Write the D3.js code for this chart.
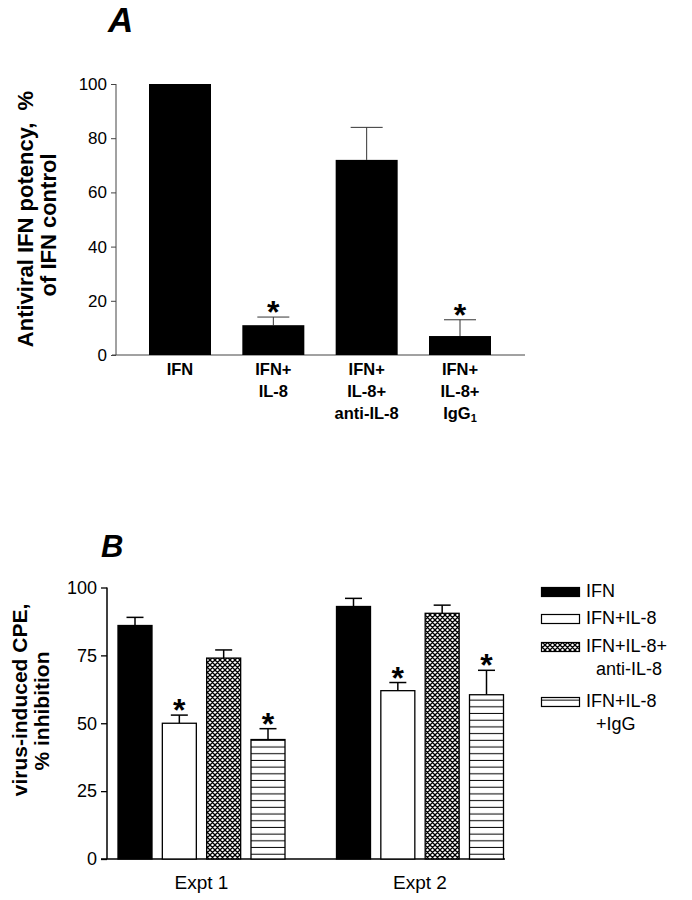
<!DOCTYPE html>
<html>
<head>
<meta charset="utf-8">
<script src="https://cdn.jsdelivr.net/npm/d3@7"></script>
<style>
  html, body { margin: 0; padding: 0; background: #fff; }
  svg { display: block; font-family: "Liberation Sans", Arial, Helvetica, sans-serif; }
</style>
</head>
<body>
<svg id="chart" width="692" height="900"></svg>
<script>
// ---------- Panel A data ----------
const categoriesA = ["IFN", "IFN+IL-8", "IFN+IL-8+anti-IL-8", "IFN+IL-8+IgG1"];
const labelLinesA = [["IFN"], ["IFN+", "IL-8"], ["IFN+", "IL-8+", "anti-IL-8"], ["IFN+", "IL-8+", "IgG"]];
const valuesA = [100, 11, 72, 7];
const errorsA = [0, 3, 12, 6];
const significantA = [false, true, false, true];
const ticksA = [0, 20, 40, 60, 80, 100];
const minorTicksA = [0, 10, 20, 30, 40, 50, 60, 70, 80, 90, 100];

// ---------- Panel B data ----------
const groupsB = ["Expt 1", "Expt 2"];
const seriesB = ["IFN", "IFN+IL-8", "IFN+IL-8+anti-IL-8", "IFN+IL-8+IgG"];
const legendLinesB = [["IFN"], ["IFN+IL-8"], ["IFN+IL-8+", "anti-IL-8"], ["IFN+IL-8", "+IgG"]];
const valuesExpt1 = [86, 50, 74, 44];
const errorsExpt1 = [3, 3, 3, 4];
const valuesExpt2 = [93, 62, 90.5, 60.5];
const errorsExpt2 = [3, 3, 3, 9];
const significantB = [false, true, false, true];
const ticksB = [0, 25, 50, 75, 100];
const minorTicksB = [0, 12.5, 25, 37.5, 50, 62.5, 75, 87.5, 100];

const svg = d3.select("#chart");

// ---------- patterns ----------
const defs = svg.append("defs");
const cross = defs.append("pattern").attr("id", "cross")
  .attr("patternUnits", "userSpaceOnUse").attr("width", 5).attr("height", 5);
cross.append("rect").attr("width", 5).attr("height", 5).attr("fill", "#fff");
cross.append("path").attr("d", "M0,0L5,5M5,0L0,5M-1,4L1,6M4,-1L6,1M4,6L6,4M-1,1L1,-1")
  .attr("stroke", "#000").attr("stroke-width", 1.3);
const hl = defs.append("pattern").attr("id", "hlines")
  .attr("patternUnits", "userSpaceOnUse").attr("width", 10).attr("height", 6.7);
hl.append("rect").attr("width", 10).attr("height", 6.7).attr("fill", "#fff");
hl.append("line").attr("x1", 0).attr("x2", 10).attr("y1", 3.3).attr("y2", 3.3)
  .attr("stroke", "#000").attr("stroke-width", 1);
const fills = ["#000", "#fff", "url(#cross)", "url(#hlines)"];

// =================== PANEL A ===================
const yA = d3.scaleLinear().domain([0, 100]).range([355, 84]);
const xA = d3.scalePoint().domain(categoriesA).range([180, 460]);
const bwA = 62;
const gA = svg.append("g");

gA.append("text").attr("x", 108).attr("y", 32)
  .attr("font-size", 35).attr("font-weight", "bold").attr("font-style", "italic").text("A");

// axis
const axA = gA.append("g").attr("transform", "translate(116,0)");
axA.call(d3.axisLeft(yA).tickValues(minorTicksA).tickSize(3).tickFormat(""));
axA.call(d3.axisLeft(yA).tickValues(ticksA).tickSize(5).tickPadding(4).tickFormat(d3.format("d")));
axA.select(".domain").remove();
axA.selectAll("line").attr("stroke", "#444").attr("stroke-width", 1);
axA.selectAll("text").attr("font-size", 17).attr("font-family", "Liberation Sans, Arial, sans-serif").attr("fill", "#000");
gA.append("line").attr("x1", 116).attr("x2", 116).attr("y1", yA(100)).attr("y2", yA(0))
  .attr("stroke", "#444").attr("stroke-width", 1);
gA.append("line").attr("x1", 112).attr("x2", 525).attr("y1", yA(0)).attr("y2", yA(0))
  .attr("stroke", "#444").attr("stroke-width", 1);

// y label
gA.append("text").attr("transform", "translate(33,219) rotate(-90)")
  .attr("text-anchor", "middle").attr("font-size", 22).attr("font-weight", "bold")
  .attr("xml:space", "preserve").text("Antiviral IFN potency,  %");
gA.append("text").attr("transform", "translate(56,225) rotate(-90)")
  .attr("text-anchor", "middle").attr("font-size", 22).attr("font-weight", "bold")
  .text("of IFN control");

// error bars
categoriesA.forEach((c, i) => {
  if (errorsA[i] > 0) {
    const cx = xA(c), top = yA(valuesA[i] + errorsA[i]);
    gA.append("line").attr("x1", cx).attr("x2", cx).attr("y1", yA(valuesA[i])).attr("y2", top)
      .attr("stroke", "#333").attr("stroke-width", 1);
    gA.append("line").attr("x1", cx - 16).attr("x2", cx + 16).attr("y1", top).attr("y2", top)
      .attr("stroke", "#333").attr("stroke-width", 1);
  }
});
// bars
gA.selectAll("rect.bar").data(categoriesA).join("rect").attr("class", "bar")
  .attr("x", d => xA(d) - bwA / 2).attr("width", bwA)
  .attr("y", (d, i) => yA(valuesA[i])).attr("height", (d, i) => yA(0) - yA(valuesA[i]))
  .attr("fill", "#000");
// asterisks
categoriesA.forEach((c, i) => {
  if (significantA[i]) {
    gA.append("text").attr("x", xA(c)).attr("y", yA(valuesA[i] + errorsA[i]) - 13 + 19)
      .attr("text-anchor", "middle").attr("font-size", 32).attr("font-weight", "bold").text("*");
  }
});
// x labels
labelLinesA.forEach((lines, i) => {
  const t = gA.append("text").attr("text-anchor", "middle").attr("font-size", 16.5)
    .attr("font-weight", "bold");
  lines.forEach((ln, j) => {
    t.append("tspan").attr("x", xA(categoriesA[i])).attr("y", 375 + j * 22).text(ln);
    if (i === 3 && j === 2) {
      t.append("tspan").attr("font-size", 11).attr("dy", 3).text("1");
    }
  });
});

// =================== PANEL B ===================
const yB = d3.scaleLinear().domain([0, 100]).range([859, 587.5]);
const x0B = d3.scalePoint().domain(groupsB).range([201.5, 420]);
const x1B = d3.scalePoint().domain(seriesB).range([-66.5, 66.5]);
const bwB = 34;
const gB = svg.append("g");

gB.append("text").attr("x", 101).attr("y", 557)
  .attr("font-size", 31).attr("font-weight", "bold").attr("font-style", "italic").text("B");

const axB = gB.append("g").attr("transform", "translate(107,0)");
axB.call(d3.axisLeft(yB).tickValues(minorTicksB).tickSize(4).tickFormat(""));
axB.call(d3.axisLeft(yB).tickValues(ticksB).tickSize(6).tickPadding(4).tickFormat(d3.format("d")));
axB.select(".domain").remove();
axB.selectAll("line").attr("stroke", "#000").attr("stroke-width", 1.3);
axB.selectAll("text").attr("font-size", 18).attr("font-family", "Liberation Sans, Arial, sans-serif").attr("fill", "#000");
gB.append("line").attr("x1", 107).attr("x2", 107).attr("y1", yB(100)).attr("y2", yB(0))
  .attr("stroke", "#000").attr("stroke-width", 1.5);
gB.append("line").attr("x1", 101).attr("x2", 505).attr("y1", yB(0)).attr("y2", yB(0))
  .attr("stroke", "#000").attr("stroke-width", 1.5);

gB.append("text").attr("transform", "translate(27,700) rotate(-90)")
  .attr("text-anchor", "middle").attr("font-size", 21).attr("font-weight", "bold")
  .text("virus-induced CPE,");
gB.append("text").attr("transform", "translate(49,711) rotate(-90)")
  .attr("text-anchor", "middle").attr("font-size", 21).attr("font-weight", "bold")
  .text("% inhibition");

const dataB = [];
groupsB.forEach((g, gi) => {
  const vals = gi === 0 ? valuesExpt1 : valuesExpt2;
  const errs = gi === 0 ? errorsExpt1 : errorsExpt2;
  seriesB.forEach((s, si) => dataB.push({ g, s, si, v: vals[si], e: errs[si] }));
});

dataB.forEach(d => {
  const cx = x0B(d.g) + x1B(d.s), top = yB(d.v + d.e);
  gB.append("line").attr("x1", cx).attr("x2", cx).attr("y1", yB(d.v)).attr("y2", top)
    .attr("stroke", "#000").attr("stroke-width", 1.5);
  gB.append("line").attr("x1", cx - 8.5).attr("x2", cx + 8.5).attr("y1", top).attr("y2", top)
    .attr("stroke", "#000").attr("stroke-width", 1.5);
});
gB.selectAll("rect.bar").data(dataB).join("rect").attr("class", "bar")
  .attr("x", d => x0B(d.g) + x1B(d.s) - bwB / 2).attr("width", bwB)
  .attr("y", d => yB(d.v)).attr("height", d => yB(0) - yB(d.v))
  .attr("fill", d => fills[d.si])
  .attr("stroke", "#000").attr("stroke-width", 1.3);
dataB.forEach(d => {
  if (significantB[d.si]) {
    gB.append("text").attr("x", x0B(d.g) + x1B(d.s)).attr("y", yB(d.v + d.e) - 13 + 19)
      .attr("text-anchor", "middle").attr("font-size", 32).attr("font-weight", "bold").text("*");
  }
});
groupsB.forEach(g => {
  gB.append("text").attr("x", x0B(g)).attr("y", 889).attr("text-anchor", "middle")
    .attr("font-size", 19).text(g);
});

// legend
const legY = [597, 624, 652, 707];
seriesB.forEach((s, i) => {
  gB.append("rect").attr("x", 541.5).attr("y", legY[i] - 9.5).attr("width", 38).attr("height", 9)
    .attr("fill", fills[i]).attr("stroke", "#000").attr("stroke-width", 1.2);
  legendLinesB[i].forEach((ln, j) => {
    gB.append("text").attr("x", j === 0 ? 586 : 596).attr("y", legY[i] + j * 23)
      .attr("font-size", 18).text(ln);
  });
});
</script>
</body>
</html>
